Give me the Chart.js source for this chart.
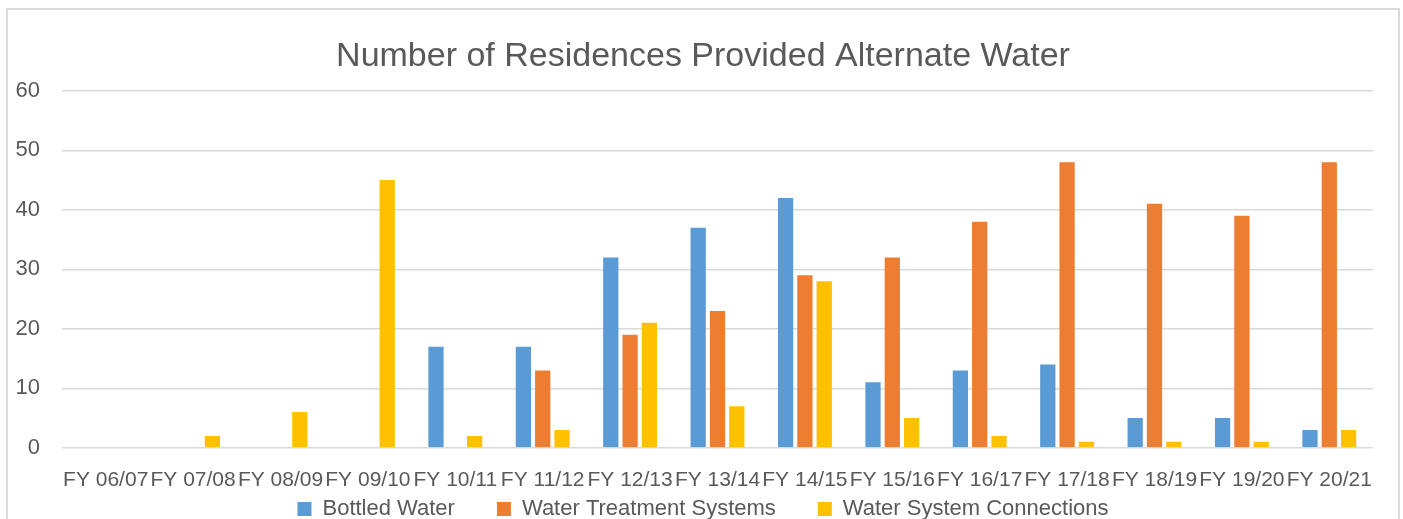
<!DOCTYPE html>
<html>
<head>
<meta charset="utf-8">
<script src="https://cdn.jsdelivr.net/npm/chart.js@4.4.0/dist/chart.umd.min.js"></script>
<style>
  html, body { margin: 0; padding: 0; background: #fff; overflow: hidden; }
  #frame {
    position: absolute; left: 6px; top: 8px;
    width: 1390px; height: 580px;
    border: 2px solid #d9d9d9;
  }
  #wrap { position: absolute; left: 0; top: 0; width: 1390px; height: 577px; }
</style>
</head>
<body>
<div id="frame"><div id="wrap"><canvas id="barChart"></canvas></div></div>
<script>
// values
var years = ["FY 06/07", "FY 07/08", "FY 08/09", "FY 09/10", "FY 10/11", "FY 11/12", "FY 12/13",
             "FY 13/14", "FY 14/15", "FY 15/16", "FY 16/17", "FY 17/18", "FY 18/19", "FY 19/20", "FY 20/21"];
var bottledWater    = [0, 0, 0, 0, 17, 17, 32, 37, 42, 11, 13, 14, 5, 5, 3];
var treatmentSystems = [0, 0, 0, 0, 0, 13, 19, 23, 29, 32, 38, 48, 41, 39, 48];
var systemConnections = [0, 2, 6, 45, 2, 3, 21, 7, 28, 5, 2, 1, 1, 1, 3];
var yTicks = [0, 10, 20, 30, 40, 50, 60];

var textColor = '#595959';
var fontFamily = "'Liberation Sans', Arial, sans-serif";

var ctx = document.getElementById("barChart").getContext('2d');

function bar(label, values, color) {
    return {
        label: label,
        data: values,
        backgroundColor: color,
        borderWidth: 0,
        categoryPercentage: 0.663,
        barPercentage: 0.79
    };
}

// centre title and legend on the whole frame, and pull the legend up under the axis labels
var placeBlocks = {
    id: 'placeBlocks',
    afterLayout: function (chart) {
        var w = chart.width;
        [chart.titleBlock, chart.legend].forEach(function (b) {
            if (!b) return;
            b.left = 0; b.right = w; b.width = w;
        });
        if (chart.legend) {
            var h = chart.legend.height;
            chart.legend.top = 446;
            chart.legend.bottom = 446 + h;
        }
    }
};

var chart = new Chart(ctx, {
    type: 'bar',
    data: {
        labels: years,
        datasets: [
            bar("Bottled Water", bottledWater, "#5B9BD5"),
            bar("Water Treatment Systems", treatmentSystems, "#ED7D31"),
            bar("Water System Connections", systemConnections, "#FFC000")
        ]
    },
    plugins: [placeBlocks],
    options: {
        responsive: true,
        maintainAspectRatio: false,
        animation: false,
        layout: { padding: { left: 0, right: 25, top: 0, bottom: 0 } },
        plugins: {
            tooltip: { enabled: false },
            title: {
                display: true,
                text: "Number of Residences Provided Alternate Water",
                color: textColor,
                font: { family: fontFamily, size: 34, weight: 'normal' },
                padding: { top: 26, bottom: 14 }
            },
            legend: {
                display: true,
                position: 'bottom',
                labels: {
                    color: textColor,
                    font: { family: fontFamily, size: 22 },
                    boxWidth: 14,
                    boxHeight: 14,
                    padding: 42
                }
            }
        },
        scales: {
            x: {
                grid: { display: false, drawTicks: false },
                border: { display: false },
                ticks: {
                    color: textColor,
                    font: { family: fontFamily, size: 21 },
                    autoSkip: false,
                    maxRotation: 0,
                    minRotation: 0,
                    padding: 20
                }
            },
            y: {
                min: 0,
                max: 60,
                afterFit: function (scale) { scale.width = 54; },
                afterBuildTicks: function (scale) {
                    scale.ticks = yTicks.map(function (v) { return { value: v }; });
                },
                grid: { color: '#d9d9d9', lineWidth: 1.5, drawTicks: false },
                border: { display: false },
                ticks: {
                    color: textColor,
                    font: { family: fontFamily, size: 22 },
                    padding: 22
                }
            }
        }
    }
});
</script>
</body>
</html>
